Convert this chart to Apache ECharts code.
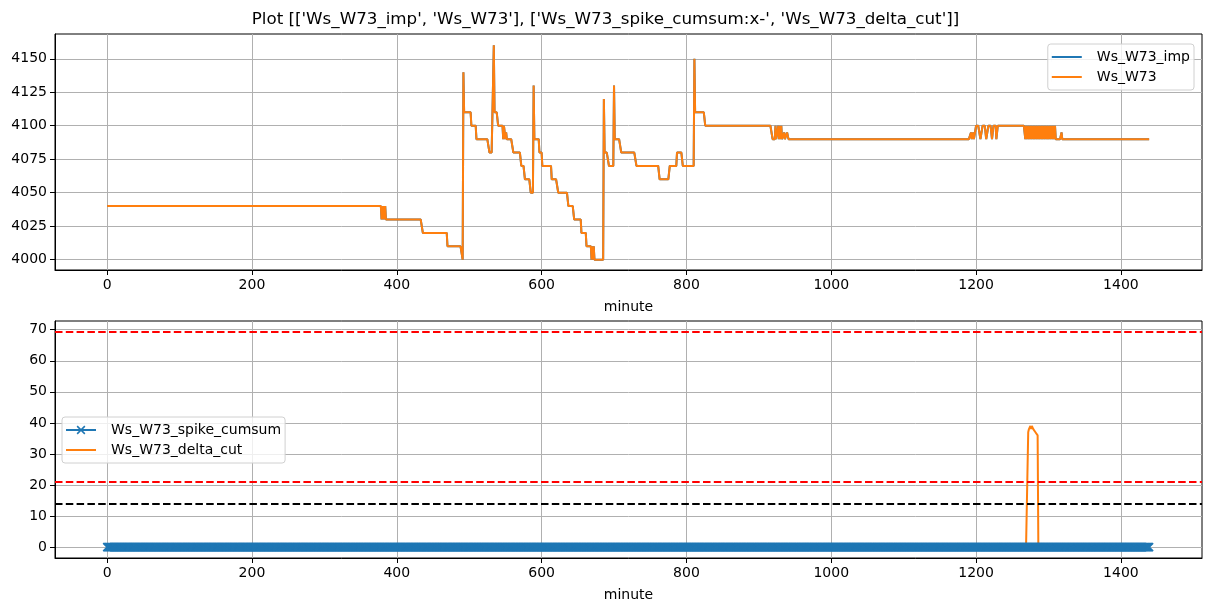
<!DOCTYPE html>
<html><head><meta charset="utf-8">
<script src="https://cdn.jsdelivr.net/npm/echarts@6/dist/echarts.min.js"></script>
<style>html,body{margin:0;padding:0;background:#fff}#c{width:1211px;height:611px}</style>
</head><body><div id="c"></div>
<script>
// ---- data (change points: [minute, value], value holds until next change) ----
const minuteCount = 1440;
const wsChanges = [
  [0,4040],[379,4030],[380,4040],[381,4030],[382,4040],[383,4030],[384,4040],[385,4030],
  [436,4020],[470,4010],[491,4000],[492,4140],[493,4110],[503,4100],[510,4090],
  [528,4080],[534,4160],[535,4110],[540,4100],[547,4090],[548,4100],[550,4090],[551,4095],[552,4090],
  [561,4080],[572,4070],[577,4060],[585,4050],[589,4130],[590,4090],[597,4080],[601,4070],
  [614,4060],[623,4050],[637,4040],[645,4030],[655,4020],[662,4010],
  [669,4000],[670,4010],[671,4000],[672,4010],[673,4000],
  [686,4120],[687,4080],[693,4070],[700,4130],[701,4090],[710,4080],[731,4070],
  [763,4060],[777,4070],[787,4080],[795,4070],[811,4150],[812,4110],[826,4100],
  [919,4090],[923,4100],[924,4090],[927,4100],[928,4090],[929,4100],[930,4090],[931,4100],[932,4090],
  [935,4095],[936,4090],[939,4095],[941,4090],
  [1193,4095],[1194,4090],[1196,4095],[1197,4090],[1200,4100],[1206,4090],[1209,4100],[1214,4090],
  [1217,4100],[1222,4090],[1224,4100],[1228,4090],[1230,4100],
  [1268,4090],[1269,4100],[1270,4090],[1272,4100],[1273,4090],[1275,4100],[1276,4090],[1277,4100],
  [1279,4090],[1280,4100],[1281,4090],[1283,4100],[1284,4090],[1286,4100],[1287,4090],[1288,4100],
  [1290,4090],[1291,4100],[1292,4090],[1294,4100],[1295,4090],[1296,4100],[1298,4090],[1299,4100],
  [1300,4090],[1302,4100],[1303,4090],[1305,4100],[1306,4090],[1307,4100],[1308,4090],[1309,4100],
  [1310,4090],[1318,4095],[1319,4090]
];
const wsImpChanges = wsChanges;
const spikeCumsumChanges = [[0,0]];
const deltaCutChanges = [
  [0,0],[1272,37],[1273,38],[1274,38.5],[1275,39],[1276,38],[1277,39],[1278,38.5],[1279,38],
  [1280,38],[1281,37.5],[1282,37],[1283,37],[1284,36.5],[1285,36],[1286,0]
];
const redLevels = [69.3, 20.9];
const blackLevels = [13.9];
const xTicks = [0,200,400,600,800,1000,1200,1400];
const yTopTicks = [4000,4025,4050,4075,4100,4125,4150];
const yBotTicks = [0,10,20,30,40,50,60,70];
const titleText = "Plot [['Ws_W73_imp', 'Ws_W73'], ['Ws_W73_spike_cumsum:x-', 'Ws_W73_delta_cut']]";

function expand(changes){
  const out = [];
  let k = 0;
  for (let m = 0; m < minuteCount; m++){
    while (k + 1 < changes.length && changes[k+1][0] <= m) k++;
    out.push([m, changes[k][1]]);
  }
  return out;
}

const BLUE = '#1f77b4', ORANGE = '#ff7f0e';
const FONT = 'DejaVu Sans';
const gridLine = {show:true, lineStyle:{color:'#b0b0b0', width:1}};
const plain = v => String(v);

function xAxisDef(gi){
  return {
    type:'value', gridIndex:gi, min:-72, max:1512,
    name:'minute', nameLocation:'middle', nameGap:30,
    nameTextStyle:{fontFamily:FONT, fontSize:14, color:'#000'},
    axisLine:{show:true, onZero:false, lineStyle:{color:'#000', width:1}},
    axisTick:{show:true, length:5, lineStyle:{color:'#000'}, customValues:xTicks},
    axisLabel:{customValues:xTicks, formatter:plain, fontFamily:FONT, fontSize:14, color:'#000', margin:8},
    splitLine:gridLine
  };
}
function yAxisDef(gi, min, max, ticks){
  return {
    type:'value', gridIndex:gi, min:min, max:max,
    axisLine:{show:true, onZero:false, lineStyle:{color:'#000', width:1}},
    axisTick:{show:true, length:5, lineStyle:{color:'#000'}, customValues:ticks},
    axisLabel:{customValues:ticks, formatter:plain, fontFamily:FONT, fontSize:14, color:'#000', margin:8},
    splitLine:gridLine
  };
}

const markLineData = [];
redLevels.forEach(v => markLineData.push({yAxis:v, lineStyle:{color:'#ff0000', type:[7.5,3.3], width:2}}));
blackLevels.forEach(v => markLineData.push({yAxis:v, lineStyle:{color:'#000000', type:[7.5,3.3], width:2}}));

const lineIcon = 'path://M0,0H0.01V10H0Z M0,4.1H30V5.9H0Z M29.99,0H30V10H29.99Z';
const lineXIcon = 'path://M0,0H0.01V10H0Z M0,4.1H30V5.9H0Z M29.99,0H30V10H29.99Z ' +
  'M10.6,1.7L11.7,0.6L19.4,8.3L18.3,9.4Z M18.3,0.6L19.4,1.7L11.7,9.4L10.6,8.3Z';

const legendCommon = {orient:'vertical', itemWidth:30, itemHeight:10, itemGap:6,
  padding:[6,4,6,4], borderColor:'#d0d0d0', borderWidth:1, borderRadius:3, backgroundColor:'rgba(255,255,255,0.8)',
  textStyle:{fontFamily:FONT, fontSize:14, color:'#000', padding:[0,0,0,10]}};

const chart = echarts.init(document.getElementById('c'), null, {renderer:'canvas'});
chart.setOption({
  animation:false,
  backgroundColor:'#fff',
  title:{text:titleText, left:'center', top:6, textStyle:{fontFamily:FONT, fontSize:16.7, fontWeight:'normal', color:'#000'}},
  grid:[
    {left:55, top:34, width:1147, height:236, show:true, borderColor:'#000', borderWidth:1, containLabel:false},
    {left:55, top:321, width:1147, height:237, show:true, borderColor:'#000', borderWidth:1, containLabel:false}
  ],
  xAxis:[xAxisDef(0), xAxisDef(1)],
  yAxis:[yAxisDef(0, 3992.3, 4168.5, yTopTicks), yAxisDef(1, -3.5, 72.8, yBotTicks)],
  legend:[
    Object.assign({}, legendCommon, {right:17, top:44, data:[
      {name:'Ws_W73_imp', icon:lineIcon, itemStyle:{color:BLUE, borderWidth:0}},
      {name:'Ws_W73', icon:lineIcon, itemStyle:{color:ORANGE, borderWidth:0}}]}),
    Object.assign({}, legendCommon, {left:62, top:417, data:[
      {name:'Ws_W73_spike_cumsum', icon:lineXIcon, itemStyle:{color:BLUE, borderWidth:0, borderColor:'transparent'}},
      {name:'Ws_W73_delta_cut', icon:lineIcon, itemStyle:{color:ORANGE, borderWidth:0}}]})
  ],
  series:[
    {name:'Ws_W73_imp', type:'line', xAxisIndex:0, yAxisIndex:0, data:expand(wsImpChanges), symbol:'none',
     lineStyle:{color:BLUE, width:2}, itemStyle:{color:BLUE}},
    {name:'Ws_W73', type:'line', xAxisIndex:0, yAxisIndex:0, data:expand(wsChanges), symbol:'none',
     lineStyle:{color:ORANGE, width:2}, itemStyle:{color:ORANGE}},
    {name:'Ws_W73_spike_cumsum', type:'line', xAxisIndex:1, yAxisIndex:1, data:expand(spikeCumsumChanges),
     symbol:'path://M0,0L10,10M10,0L0,10', symbolSize:8, showSymbol:true, showAllSymbol:true,
     lineStyle:{color:BLUE, width:2}, itemStyle:{color:'none', borderColor:BLUE, borderWidth:1.5}},
    {name:'Ws_W73_delta_cut', type:'line', xAxisIndex:1, yAxisIndex:1, data:expand(deltaCutChanges), symbol:'none',
     lineStyle:{color:ORANGE, width:2}, itemStyle:{color:ORANGE},
     markLine:{silent:true, symbol:'none', label:{show:false}, animation:false, data:markLineData}}
  ]
});
</script>
</body></html>
